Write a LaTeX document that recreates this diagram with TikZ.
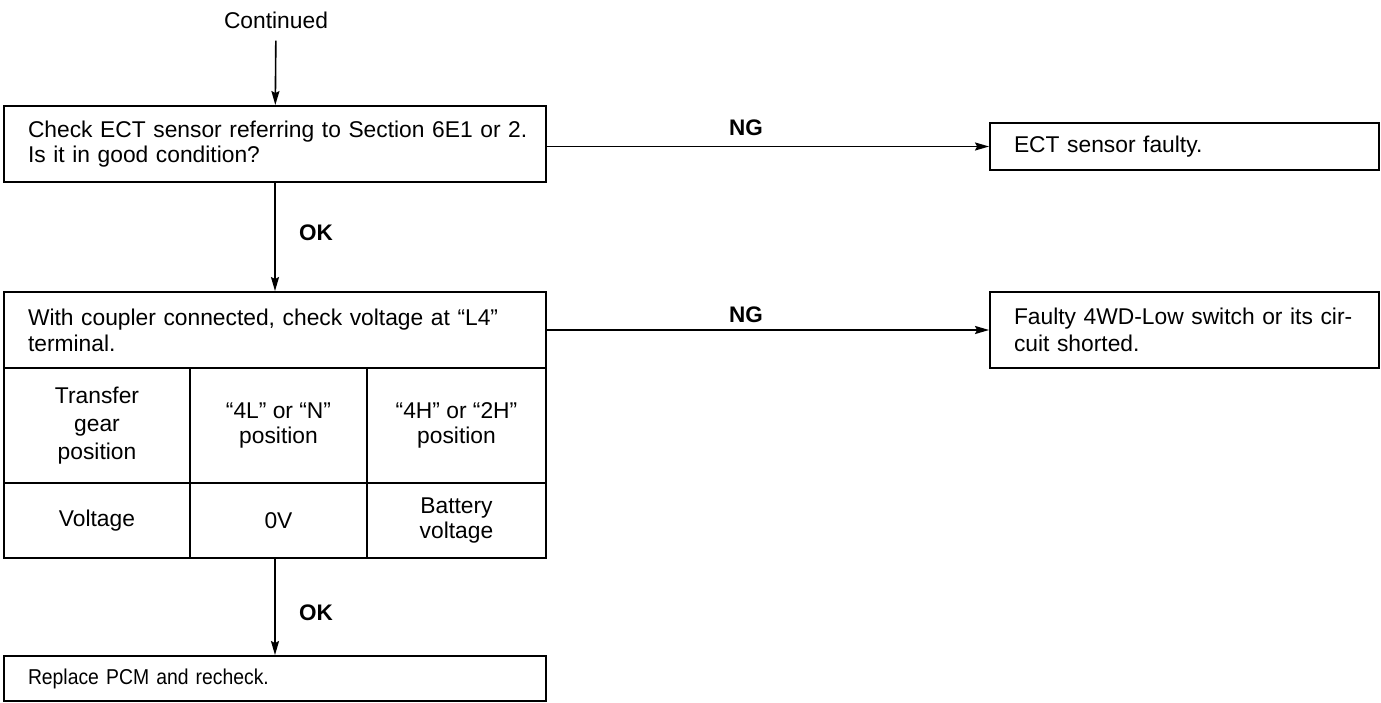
\documentclass[tikz,border=0pt]{standalone}
\usepackage{fontspec}
\setmainfont{Liberation Sans}
\newfontfamily\narrowfont{Liberation Sans}[FakeStretch=0.9]
\usetikzlibrary{arrows.meta}
\begin{document}
\begin{tikzpicture}[x=1pt,y=-1pt,
  every node/.style={font=\fontsize{22.8}{25}\selectfont},
  box/.style={draw,line width=1.9pt,inner xsep=24pt,inner ysep=0pt,align=left,anchor=center},
  cell/.style={draw,line width=1.6pt,inner sep=0pt,align=center},
  lbl/.style={font=\fontsize{22.5}{24}\selectfont\bfseries,inner sep=0pt},
  arr/.style={line width=1.6pt,-{Stealth[length=14pt,width=8pt,inset=2pt]}}]
\useasboundingbox (0,0) rectangle (1381,703);
\node[inner sep=0pt] (cont) at (276,20) {Continued};
\node[box,text width=494pt,minimum height=76pt] (b1) at (275,144) {\mbox{Check ECT sensor referring to Section 6E1 or 2.}\\Is it in good condition?};
\node[box,text width=341pt,minimum height=47pt] (ect) at (1184.5,146.5) {ECT sensor faulty.};
\node[box,text width=494pt,minimum height=76pt,font=\fontsize{22.8}{26}\selectfont] (hdr) at (275,330) {\mbox{With coupler connected, check voltage at “L4”}\\terminal.};
\node[box,text width=341pt,minimum height=76pt,font=\fontsize{22.8}{27}\selectfont] (faulty) at (1184.5,330) {\mbox{Faulty 4WD-Low switch or its cir-}\\cuit shorted.};
\node[cell,minimum width=186pt,minimum height=115pt,font=\fontsize{22.8}{28}\selectfont] (c11) at (97,425.5) {Transfer\\gear\\position};
\node[cell,minimum width=177pt,minimum height=115pt,font=\fontsize{22.8}{25}\selectfont] (c12) at (278.5,425.5) {“4L” or “N”\\position};
\node[cell,minimum width=179pt,minimum height=115pt,font=\fontsize{22.8}{25}\selectfont] (c13) at (456.5,425.5) {“4H” or “2H”\\position};
\node[cell,minimum width=186pt,minimum height=75pt] (c21) at (97,520.5) {Voltage};
\node[cell,minimum width=177pt,minimum height=75pt] (c22) at (278.5,520.5) {0V};
\node[cell,minimum width=179pt,minimum height=75pt,font=\fontsize{22.8}{25}\selectfont] (c23) at (456.5,520.5) {Battery\\voltage};
\node[box,text width=494pt,minimum height=45pt,font=\narrowfont\fontsize{21.5}{24}\selectfont] (b3) at (275,678.5) {Replace PCM and recheck.};
\node[lbl] (ng1) at (746,128) {NG};
\node[lbl] (ng2) at (746,315) {NG};
\node[lbl] (ok1) at (316,233) {OK};
\node[lbl] (ok2) at (316,613) {OK};
\draw[arr,shorten <=12pt] (cont) -- (b1);
\draw[arr] (b1) -- (hdr);
\draw[arr] (b3.north |- c22.south) -- (b3.north);
\draw[arr] (b1.east |- ect.west) -- (ect.west);
\draw[arr] (hdr.east) -- (faulty.west);
\end{tikzpicture}
\end{document}
